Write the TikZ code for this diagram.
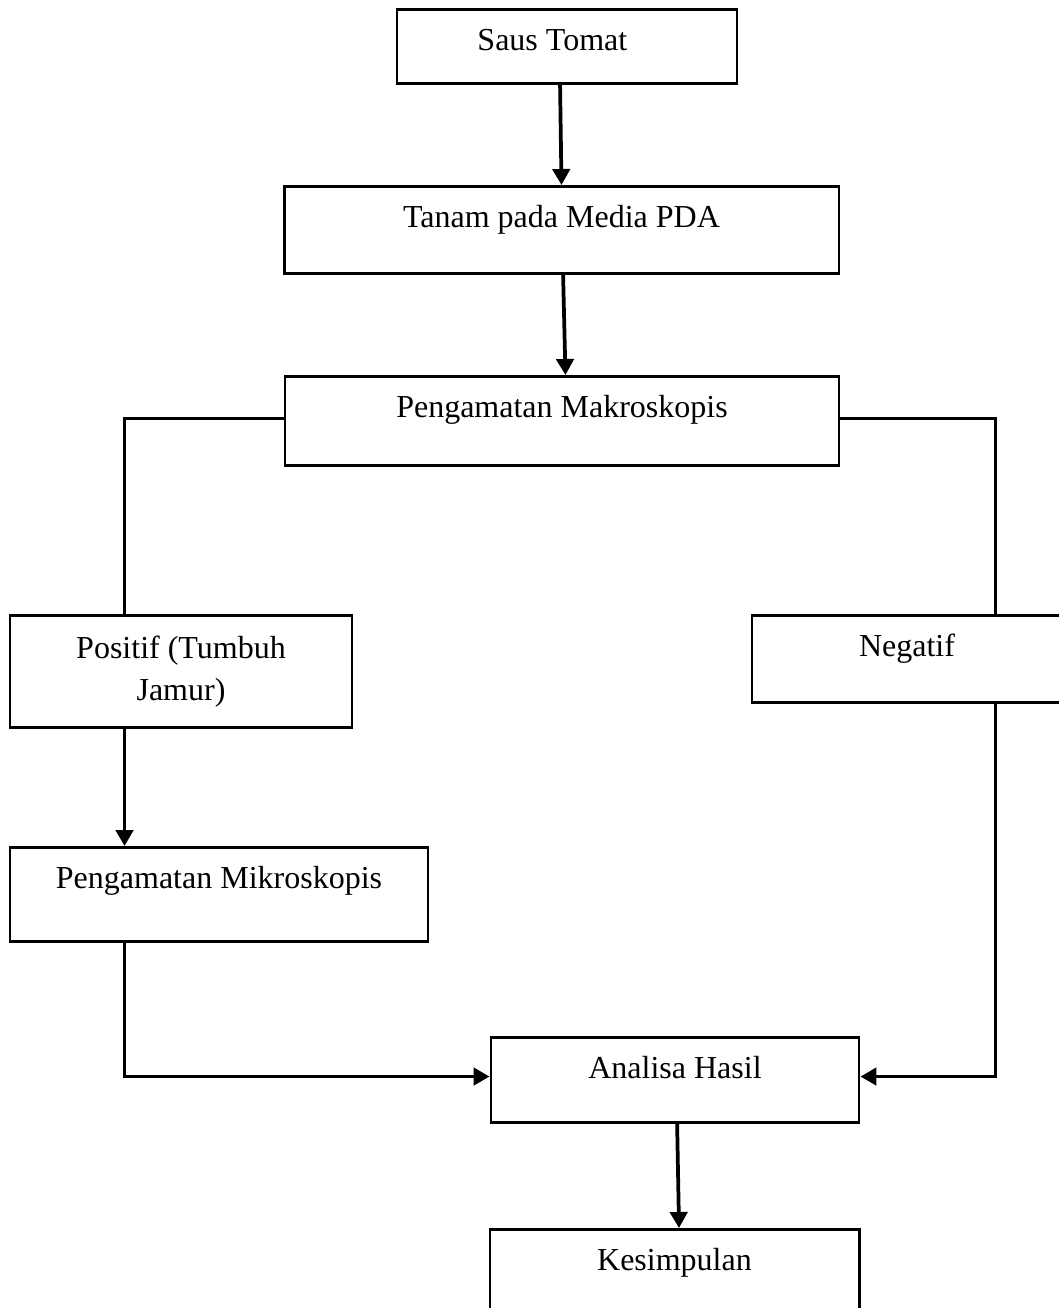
\documentclass[tikz,border=0pt]{standalone}
\usepackage{fontspec}
\setmainfont{Liberation Serif}
\usetikzlibrary{arrows.meta}

\tikzset{
  kotak/.style={draw, line width=1.1pt, inner sep=0pt, anchor=north, font=\fontsize{12}{15.75}\selectfont},
  satu/.style={kotak, text height=15.25pt},
  panah/.style={line width=1.4pt, -{Triangle[length=6pt,width=6.5pt]}},
  garis/.style={line width=1pt},
}

\begin{document}
\begin{tikzpicture}[x=0.375pt, y=-0.375pt]
    \useasboundingbox (0,0) rectangle (1059,1308);
    % kotak-kotak
    \node[satu, minimum width=127.5pt, text depth=12.5pt] (saus) at (567,8) {Saus Tomat\hspace*{11pt}};
    \node[satu, minimum width=208.1pt, text depth=17.35pt] (tanam) at (561.5,185) {Tanam pada Media PDA};
    \node[satu, minimum width=207.75pt, text depth=18.15pt] (makro) at (562,375) {Pengamatan Makroskopis};
    \node[kotak, align=center, minimum width=128.25pt, minimum height=42pt] (positif) at (181,614) {Positif (Tumbuh\\Jamur)};
    \node[satu, minimum width=116.25pt, text depth=17.35pt] (negatif) at (907,614) {Negatif};
    \node[satu, minimum width=156.75pt, text depth=20pt] (mikro) at (219,846) {Pengamatan Mikroskopis};
    \node[satu, minimum width=138pt, text depth=16.65pt] (analisa) at (675,1036) {Analisa Hasil};
    \node[satu, minimum width=138.4pt, text depth=17.75pt] (kesimpulan) at (674.5,1228) {Kesimpulan};
    % garis penghubung
    \draw[panah] ([xshift=-2.6pt]saus.south) -- (tanam.north);
    \draw[panah] ([xshift=0.6pt]tanam.south) -- ([xshift=1.3pt]makro.north);
    \draw[garis] ([yshift=1pt]makro.west) -| ([xshift=43.5pt]positif.north west);
    \draw[garis] ([yshift=1pt]makro.east) -| ([xshift=91.9pt]negatif.north west);
    \draw[panah] ([xshift=43.5pt]positif.south west) -- ([xshift=43.5pt]mikro.north west);
    \draw[panah] ([xshift=43.5pt]mikro.south west) |- ([yshift=1.3pt]analisa.west);
    \draw[panah] ([xshift=91.9pt]negatif.south west) |- ([yshift=1.3pt]analisa.east);
    \draw[panah] ([xshift=0.8pt]analisa.south) -- ([xshift=1.7pt]kesimpulan.north);
\end{tikzpicture}
\end{document}
